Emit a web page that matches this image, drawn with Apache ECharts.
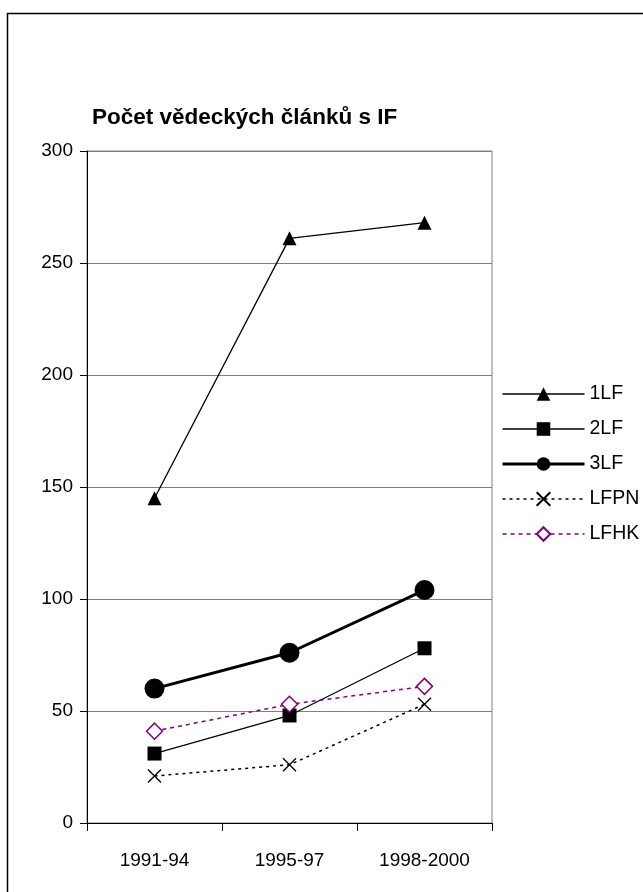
<!DOCTYPE html>
<html>
<head>
<meta charset="utf-8">
<script src="https://cdn.jsdelivr.net/npm/echarts@6/dist/echarts.min.js"></script>
<style>
html,body{margin:0;padding:0;background:#fff;}
#c{width:643px;height:892px;}
</style>
</head>
<body>
<div id="c"></div>
<script>
const categories = ['1991-94', '1995-97', '1998-2000'];
const s1LF = [145, 261, 268];
const s2LF = [31, 48, 78];
const s3LF = [60, 76, 104];
const sLFPN = [21, 26, 53];
const sLFHK = [41, 53, 61];
const yTicks = [0, 50, 100, 150, 200, 250, 300];

const FONT = 'Liberation Sans, Arial, sans-serif';
const chart = echarts.init(document.getElementById('c'), null, {renderer: 'canvas'});
const xPath = 'path://M0,0L10,10M10,0L0,10';

chart.setOption({
  animation: false,
  backgroundColor: '#fff',
  textStyle: {fontFamily: FONT},
  graphic: [{
    type: 'rect', shape: {x: 7.5, y: 13.5, width: 700, height: 900},
    style: {fill: 'none', stroke: '#000', lineWidth: 1.5}, z: 100, silent: true
  }],
  title: {
    text: 'Počet vědeckých článků s IF',
    left: 92, top: 106, padding: 0,
    textStyle: {fontFamily: FONT, fontSize: 22.5, fontWeight: 'bold', color: '#000'}
  },
  legend: {
    orient: 'vertical', left: 496, top: 379,
    itemWidth: 82, itemHeight: 17, itemGap: 15,
    textStyle: {fontFamily: FONT, fontSize: 19.5, color: '#000', lineHeight: 17},
    data: [
      {name: '1LF', lineStyle: {width: 1.3}},
      {name: '2LF', lineStyle: {width: 1.3}},
      {name: '3LF', lineStyle: {width: 3}},
      {name: 'LFPN', lineStyle: {width: 1.5}},
      {name: 'LFHK', lineStyle: {width: 1.5}}
    ]
  },
  grid: {left: 87, top: 151, width: 405, height: 672, show: true, borderColor: '#808080', borderWidth: 1, backgroundColor: 'transparent'},
  xAxis: {
    type: 'category', data: categories, boundaryGap: true,
    axisLine: {lineStyle: {color: '#000', width: 1}},
    axisTick: {show: true, length: 8, interval: 0, lineStyle: {color: '#000'}},
    axisLabel: {fontFamily: FONT, fontSize: 19, color: '#000', margin: 28, interval: 0},
    splitLine: {show: false}
  },
  yAxis: {
    type: 'value', min: yTicks[0], max: yTicks[yTicks.length - 1], interval: 50,
    axisLine: {show: true, lineStyle: {color: '#000', width: 1}},
    axisTick: {show: true, length: 7, lineStyle: {color: '#000'}},
    axisLabel: {fontFamily: FONT, fontSize: 19, color: '#000', margin: 14},
    splitLine: {show: true, lineStyle: {color: '#808080', width: 1}}
  },
  series: [
    {name: '1LF', type: 'line', data: s1LF, symbol: 'triangle', symbolSize: 14,
     lineStyle: {color: '#000', width: 1.3}, itemStyle: {color: '#000'}},
    {name: '2LF', type: 'line', data: s2LF, symbol: 'rect', symbolSize: 14,
     lineStyle: {color: '#000', width: 1.3}, itemStyle: {color: '#000'}},
    {name: '3LF', type: 'line', data: s3LF, symbol: 'circle', symbolSize: 20,
     lineStyle: {color: '#000', width: 3}, itemStyle: {color: '#000'}},
    {name: 'LFPN', type: 'line', data: sLFPN, symbol: xPath, symbolSize: 13,
     lineStyle: {color: '#000', width: 1.5, type: [3, 4]},
     itemStyle: {color: '#000', borderColor: '#000', borderWidth: 1.3}},
    {name: 'LFHK', type: 'line', data: sLFHK, symbol: 'diamond', symbolSize: 16,
     lineStyle: {color: '#800080', width: 1.5, type: [4, 4]},
     itemStyle: {color: '#fff', borderColor: '#800080', borderWidth: 1.5}}
  ]
});
</script>
</body>
</html>
